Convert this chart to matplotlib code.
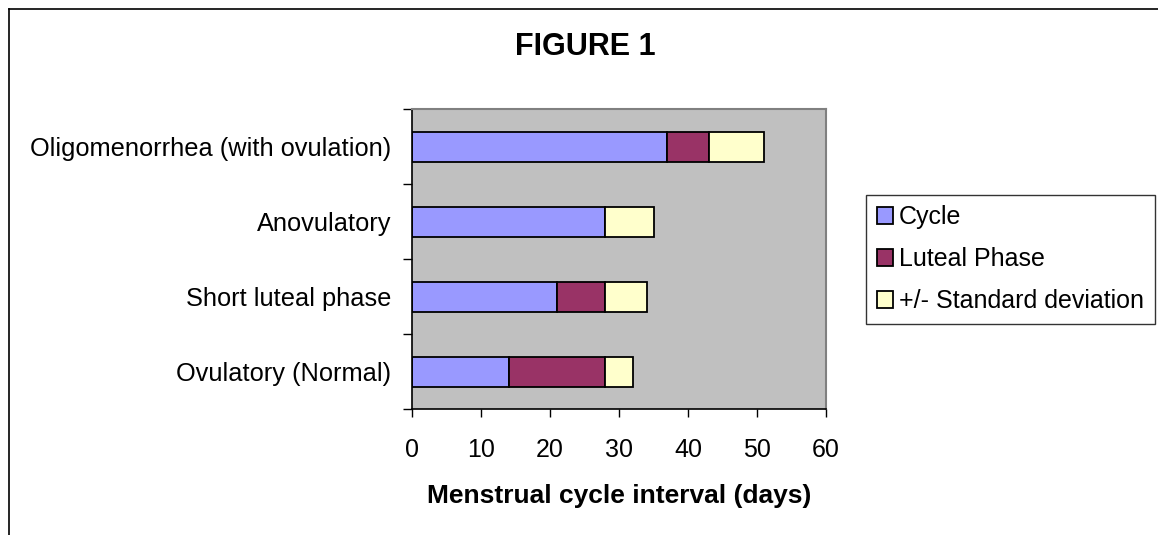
import matplotlib
matplotlib.use('Agg')
import matplotlib.pyplot as plt
from matplotlib.lines import Line2D
import numpy as np

plt.rcParams['font.family'] = ['Liberation Sans', 'DejaVu Sans']

categories = ['Ovulatory (Normal)', 'Short luteal phase', 'Anovulatory',
              'Oligomenorrhea (with ovulation)']
cycle = [14, 21, 28, 37]
luteal = [14, 7, 0, 6]
sd = [4, 6, 7, 8]
series_names = ['Cycle', 'Luteal Phase', '+/- Standard deviation']
colors = ['#9999FF', '#993366', '#FFFFCC']
xticks = [0, 10, 20, 30, 40, 50, 60]

W, H = 1158, 535
fig = plt.figure(figsize=(W / 100, H / 100), dpi=100)
ax = fig.add_axes([412 / W, 1 - 409.3 / H, (826 - 412) / W, (409.3 - 109.3) / H])

y = np.arange(len(categories))
left = np.zeros(len(categories))
for vals, name, col in zip([cycle, luteal, sd], series_names, colors):
    ax.barh(y, vals, left=left, height=0.4, color=col, edgecolor='black',
            linewidth=1.3, label=name)
    left = left + np.array(vals)

ax.set_facecolor('#C0C0C0')
ax.set_xlim(0, 60)
ax.set_ylim(-0.5, len(categories) - 0.5)
ax.set_xticks(xticks)
ax.set_xticklabels([str(t) for t in xticks], fontsize=18)
ax.set_yticks(y)
ax.set_yticklabels(categories, fontsize=18.3)
ax.set_yticks(np.arange(-0.5, len(categories), 1.0), minor=True)
ax.tick_params(axis='y', which='major', length=0, pad=15)
ax.tick_params(axis='y', which='minor', length=6.5, width=1, direction='out')
ax.tick_params(axis='x', length=5.5, width=1, direction='out', pad=15)

for side in ['top', 'right']:
    ax.spines[side].set_color('#808080')
    ax.spines[side].set_linewidth(1.5)
for side in ['left', 'bottom']:
    ax.spines[side].set_color('black')
    ax.spines[side].set_linewidth(1.2)

ax.set_xlabel('Menstrual cycle interval (days)', fontsize=19,
              fontweight='bold', labelpad=16)

fig.text(585 / W, 1 - 46.7 / H, 'FIGURE 1', fontsize=22, fontweight='bold',
         ha='center', va='center')

leg = ax.legend(loc='upper left', bbox_to_anchor=(866 / W, 1 - 195 / H),
                bbox_transform=fig.transFigure, fontsize=18, frameon=True,
                fancybox=False, borderaxespad=0, borderpad=0.42,
                handlelength=0.65, handleheight=0.65, handletextpad=0.25,
                labelspacing=0.72)
leg.get_frame().set_edgecolor('black')
leg.get_frame().set_linewidth(1.0)

# outer chart border (cropped on right and bottom)
fig.add_artist(Line2D([8.5 / W, 8.5 / W], [0, 1 - 9 / H], color='black',
                      linewidth=1.2, transform=fig.transFigure))
fig.add_artist(Line2D([8.5 / W, 1], [1 - 9 / H, 1 - 9 / H], color='black',
                      linewidth=1.2, transform=fig.transFigure))

fig.savefig('out.png', dpi=100)
